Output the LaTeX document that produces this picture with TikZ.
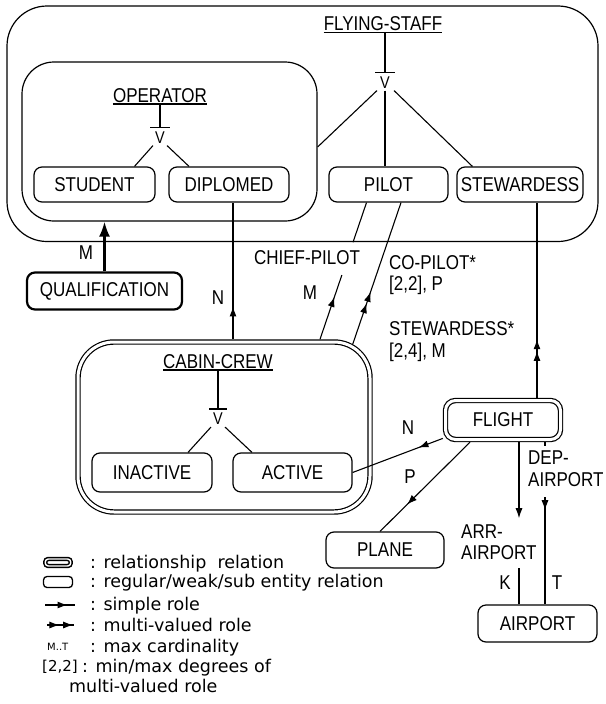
\documentclass[tikz,border=0pt]{standalone}
\usepackage{fontspec}
\setmainfont{Liberation Sans}[FakeStretch=0.85]
\newfontfamily\legfont{DejaVu Sans}
\usetikzlibrary{arrows.meta,decorations.markings,calc}
\tikzset{
  hd/.tip={Latex[length=10pt,width=7pt]},
  txt/.style={font=\fontsize{20}{22}\selectfont, inner sep=0pt},
  gv/.style={font=\fontsize{17}{17}\selectfont, inner sep=0pt},
  ent/.style={draw, line width=1.2pt, rounded corners=8pt, inner sep=0pt, font=\fontsize{20}{22}\selectfont},
  relbox/.style={draw, line width=1.2pt, double, double distance=3pt, outer sep=2.7pt, inner sep=0pt, font=\fontsize{20}{22}\selectfont},
  ln/.style={line width=1.1pt},
  leg/.style={font=\legfont\fontsize{17.5}{20}\selectfont, inner sep=0pt, anchor=base west},
  midarrow/.style={postaction={decorate}, decoration={markings, mark=at position #1 with {\arrow{hd}}}},
  midtwo/.style 2 args={postaction={decorate}, decoration={markings, mark=at position #1 with {\arrow{hd}}, mark=at position #2 with {\arrow{hd}}}},
}
\begin{document}
\begin{tikzpicture}[x=1pt,y=-1pt]
\useasboundingbox[fill=white] (0,0) rectangle (605,704);

% ---------- FLYING-STAFF container ----------
\node[ent, rounded corners=40pt, minimum width=591pt, minimum height=235.5pt] (flying) at (302.5,123.75) {};
\node[txt, anchor=base] (fslbl) at (383,30) {FLYING-STAFF};
\draw[ln] ($(fslbl.base west)+(0,2.5)$) -- ($(fslbl.base east)+(0,2.5)$);
\node[gv] (fsv) at (385,82.5) {V};
\draw[ln] ($(fslbl.base -| fsv.north)+(0,2.5)$) -- ($(fsv.north)+(0,-4)$);
\draw[ln] ($(fsv.north)+(-10,-4)$) -- ($(fsv.north)+(10,-4)$);

% ---------- OPERATOR ----------
\node[ent, rounded corners=32pt, minimum width=295pt, minimum height=159pt] (operator) at (169.5,141.5) {};
\node[txt, anchor=base] (oplbl) at (160,102) {OPERATOR};
\draw[ln] ($(oplbl.base west)+(0,2)$) -- ($(oplbl.base east)+(0,2)$);
\node[gv] (opv) at (160,137.5) {V};
\draw[ln] ($(oplbl.base -| opv.north)+(0,2)$) -- ($(opv.north)+(0,-4)$);
\draw[ln] ($(opv.north)+(-10,-4)$) -- ($(opv.north)+(10,-4)$);

\node[ent, minimum width=121pt, minimum height=35pt] (student) at (94.5,184.5) {STUDENT};
\node[ent, minimum width=120pt, minimum height=35pt] (diplomed) at (229,184.5) {DIPLOMED};
\node[ent, minimum width=119pt, minimum height=35pt] (pilot) at (388.5,184.5) {PILOT};
\node[ent, minimum width=126pt, minimum height=35pt] (steward) at (520,184.5) {STEWARDESS};

\draw[ln] ($(opv.south)+(-7,2)$) -- ($(student.north)+(40,0)$);
\draw[ln] ($(opv.south)+(7,2)$) -- ($(diplomed.north)+(-40,0)$);

\draw[ln] ($(fsv.south)+(-8,2)$) -- ($(operator.east)+(0,5.5)$);
\draw[ln] ($(fsv.south)+(0,2)$) -- (fsv.south |- pilot.north);
\draw[ln] ($(fsv.south)+(9,2)$) -- ($(steward.north west)+(16,0)$);

% ---------- QUALIFICATION ----------
\node[ent, line width=2.2pt, minimum width=155pt, minimum height=37pt] (qual) at (104.5,291) {QUALIFICATION};
\draw[line width=2.4pt, -{Latex[length=15pt,width=11pt]}] (qual.north) -- (qual.north |- operator.south);
\node[txt] (mq) at (86,253) {M};

% ---------- CABIN-CREW ----------
\node[relbox, rounded corners=36pt, minimum width=292pt, minimum height=170pt] (cabin) at (224,427) {};
\node[txt, anchor=base] (cclbl) at (218,368) {CABIN-CREW};
\draw[ln] ($(cclbl.base west)+(0,2)$) -- ($(cclbl.base east)+(0,2)$);
\node[gv] (ccv) at (218,419) {V};
\draw[ln] ($(cclbl.base -| ccv.north)+(0,2)$) -- ($(ccv.north)+(0,-4)$);
\draw[ln] ($(ccv.north)+(-9,-4)$) -- ($(ccv.north)+(9,-4)$);
\node[ent, minimum width=120pt, minimum height=39pt] (inactive) at (152,472.5) {INACTIVE};
\node[ent, minimum width=119pt, minimum height=39pt] (active) at (292.5,472.5) {ACTIVE};
\draw[ln] ($(ccv.south)+(-7,2)$) -- ($(inactive.north)+(36,0)$);
\draw[ln] ($(ccv.south)+(7,2)$) -- ($(active.north)+(-40.5,0)$);

% DIPLOMED role (N)
\coordinate (dx) at ($(diplomed.south)+(4,0)$);
\draw[ln, midarrow=0.24] (dx |- cabin.north) -- (dx);
\node[txt] (nd) at (218,298) {N};

% CHIEF-PILOT role (M)
\coordinate (cpa) at ($(pilot.south)+(-22,0)$);
\coordinate (cpb) at ($(cabin.north)+(96,0)$);
\draw[ln] (cpa) -- ($(cpa)!0.29!(cpb)$);
\draw[ln, midarrow=0.66] (cpb) -- ($(cpa)!0.53!(cpb)$);
\node[txt, anchor=base] (cplbl) at (307,264) {CHIEF-PILOT};
\node[txt] (mcp) at (310,293) {M};

% CO-PILOT* role
\coordinate (coa) at ($(pilot.south)+(12.5,0)$);
\coordinate (cob) at ($(cabin.north east)+(-20,5)$);
\draw[ln, midtwo={0.29}{0.37}] (cob) -- (coa);
\node[txt, anchor=base west] (co1) at (389,269) {CO-PILOT*};
\node[txt, anchor=base west] (co2) at (389,290) {[2,2], P};

% ---------- FLIGHT ----------
\node[relbox, rounded corners=10pt, minimum width=115pt, minimum height=39pt] (flight) at (503,420) {FLIGHT};

% STEWARDESS* role
\coordinate (sx) at ($(steward.south)+(17,0)$);
\draw[ln, midtwo={0.24}{0.30}] (flight.north -| sx) -- (sx);
\node[txt, anchor=base west] (st1) at (389,335) {STEWARDESS*};
\node[txt, anchor=base west] (st2) at (389,357) {[2,4], M};

% ACTIVE role (N)
\draw[ln, midarrow=0.27] (flight.197) -- (active.east);
\node[txt] (nf) at (408,428) {N};

% PLANE role (P)
\node[ent, minimum width=118pt, minimum height=36pt] (plane) at (385,550) {PLANE};
\draw[ln, midarrow=0.70] ($(flight.south)+(-33,0)$) -- ($(plane.north)+(-5,0)$);
\node[txt] (pf) at (410,477) {P};

% ---------- AIRPORT ----------
\node[ent, minimum width=119pt, minimum height=37pt] (airport) at (537.5,623.5) {AIRPORT};
\coordinate (ax) at ($(airport.north)+(-18.5,0)$);
\coordinate (tx) at ($(airport.north)+(7.5,0)$);
\draw[ln, -{hd}] (flight.south -| ax) -- ($(flight.south -| ax)+(0,76)$);
\draw[ln] (ax) -- ($(ax)+(0,-36)$);
\node[txt, anchor=base west] (arr1) at (461,538) {ARR-};
\node[txt, anchor=base west] (arr2) at (461,559) {AIRPORT};
\node[txt] (kl) at (505,583) {K};

\draw[ln] (flight.south -| tx) -- ++(0,4);
\draw[ln, midarrow=0.12] ($(tx)+(0,-107)$) -- (tx);
\node[txt, anchor=base west] (dep1) at (528,464) {DEP-};
\node[txt, anchor=base west] (dep2) at (528,486) {AIRPORT};
\node[txt] (tl) at (557,583) {T};

% ---------- Legend ----------
\node[draw, line width=1.5pt, double, double distance=1.4pt, rounded corners=3pt, minimum width=25.5pt, minimum height=7pt, inner sep=0pt] (lgrel) at (58,562.5) {};
\node[draw, line width=1.3pt, rounded corners=3.5pt, minimum width=29pt, minimum height=11pt, inner sep=0pt] (lgent) at (58,582) {};
\coordinate (ls1) at (45,605);
\coordinate (ls2) at (75,605);
\draw[ln, midarrow=0.75] (ls1) -- (ls2);
\coordinate (lm1) at (47,625);
\coordinate (lm2) at (74,625);
\draw[ln, midtwo={0.46}{0.97}] (lm1) -- (lm2);
\node[font=\legfont\fontsize{10}{10}\selectfont, inner sep=0pt, anchor=base west] (lgmt) at (47,650) {M..T};
\node[font=\legfont\fontsize{15}{15}\selectfont, inner sep=0pt, anchor=base west] (lg22) at (42,671) {[2,2]};

\node[leg] (t1) at (90,568) {: relationship\ \ relation};
\node[leg] (t2) at (90,587) {: regular/weak/sub entity relation};
\node[leg] (t3) at (90,610) {: simple role};
\node[leg] (t4) at (90,631) {: multi-valued role};
\node[leg] (t5) at (90,652) {: max cardinality};
\node[leg] (t6) at (82,672) {: min/max degrees of};
\node[leg] (t7) at (69,692) {multi-valued role};
\end{tikzpicture}
\end{document}
